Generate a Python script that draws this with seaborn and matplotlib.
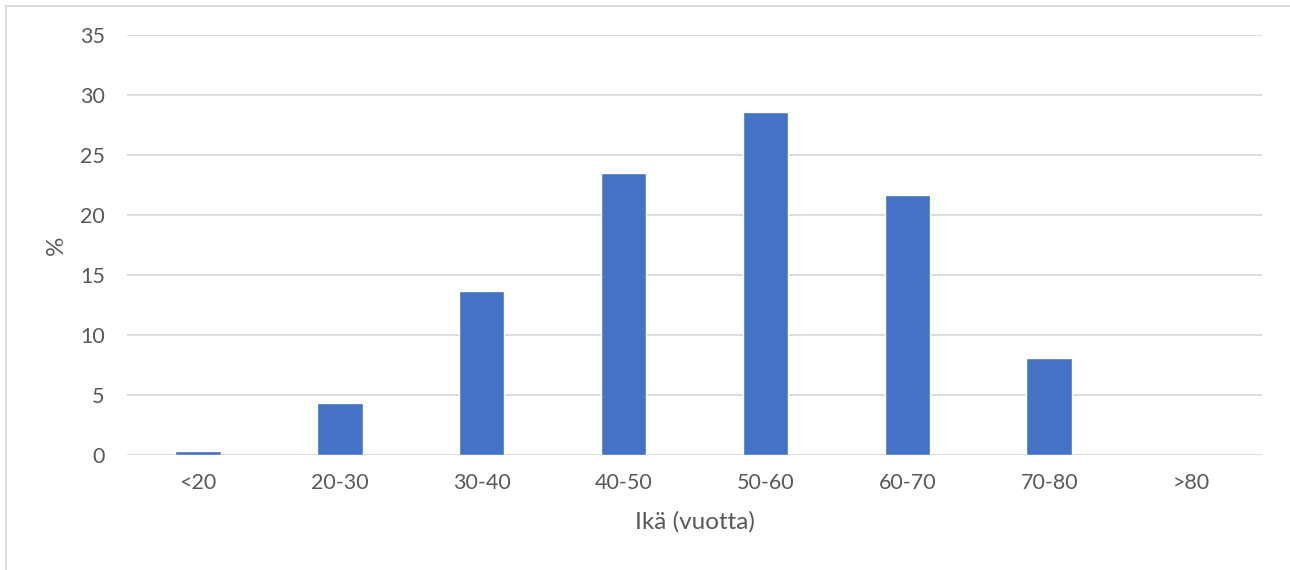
import matplotlib
matplotlib.use("Agg")
import matplotlib.pyplot as plt
import seaborn as sns
import pandas as pd
from matplotlib.lines import Line2D

categories = ["<20", "20-30", "30-40", "40-50", "50-60", "60-70", "70-80", ">80"]
values = [0.3, 4.3, 13.65, 23.5, 28.6, 21.65, 8.05, 0.0]
y_ticks = [0, 5, 10, 15, 20, 25, 30, 35]
x_label = "Ikä (vuotta)"
y_label = "%"

sns.set_theme(style="white")
plt.rcParams["font.family"] = ["Lato", "DejaVu Sans"]

text_col = "#595959"
grid_col = "#D9D9D9"
bar_col = "#4472C4"

fig = plt.figure(figsize=(12.9, 5.7), dpi=100)
ax = fig.add_axes([127/1290, 115/570, (1262-127)/1290, (455-35)/570])

df = pd.DataFrame({"cat": categories, "val": values})
sns.barplot(data=df, x="cat", y="val", color=bar_col, saturation=1, width=0.32,
            ax=ax, zorder=3)

ax.set_ylim(0, 35)
ax.set_xlim(-0.5, len(categories) - 0.5)
ax.set_yticks(y_ticks)
ax.set_yticklabels([str(t) for t in y_ticks])
ax.yaxis.grid(True, color=grid_col, linewidth=1.3, zorder=0)
ax.xaxis.grid(False)
ax.set_axisbelow(True)
for s in ax.spines.values():
    s.set_visible(False)
ax.tick_params(axis="both", length=0, colors=text_col, labelsize=15.5)
ax.tick_params(axis="y", pad=16)
ax.tick_params(axis="x", pad=13)
ax.set_xlabel(x_label, color=text_col, fontsize=17.5, labelpad=13)
ax.set_ylabel(y_label, color=text_col, fontsize=17.5, labelpad=9)

# outer chart-area border (left and top edges visible)
fig.add_artist(Line2D([6/1290, 6/1290], [0, 1 - 6/570], transform=fig.transFigure,
                      color="#D9D9D9", linewidth=1.3))
fig.add_artist(Line2D([6/1290, 1], [1 - 6/570, 1 - 6/570], transform=fig.transFigure,
                      color="#D9D9D9", linewidth=1.3))

fig.savefig("out.png", dpi=100, facecolor="white")
